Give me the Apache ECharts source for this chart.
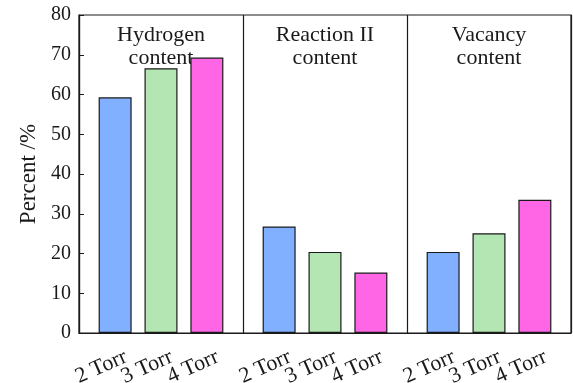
<!DOCTYPE html>
<html>
<head>
<meta charset="utf-8">
<script src="https://cdn.jsdelivr.net/npm/echarts@6/dist/echarts.min.js"></script>
<style>
  html, body { margin: 0; padding: 0; background: #fff; }
  #chart { width: 573px; height: 383px; }
</style>
</head>
<body>
<div id="chart"></div>
<script>
// Group titles (one band per quantity) and the pressure of each bar
const groups = ['Hydrogen\ncontent', 'Reaction II\ncontent', 'Vacancy\ncontent'];
const pressures = ['2 Torr', '3 Torr', '4 Torr'];

// Percent values per pressure, in group order
const torr2 = [59.3, 26.8, 20.4];
const torr3 = [66.6, 20.4, 25.1];
const torr4 = [69.3, 15.2, 33.5];

// Y axis range
const yMin = 0;
const yMax = 80;
const yStep = 10;

const barColors = ['#80b0ff', '#b3e6b3', '#ff66e6'];
const ink = '#1a1a1a';
const font = '"Liberation Serif", "DejaVu Serif", serif';

const chart = echarts.init(document.getElementById('chart'));

const seriesData = [torr2, torr3, torr4];
const series = seriesData.map((vals, i) => ({
  type: 'bar',
  name: pressures[i],
  data: vals,
  xAxisIndex: 0,
  barWidth: 33,
  barGap: '39%',
  itemStyle: { color: barColors[i], borderColor: ink, borderWidth: 1.2 },
  label: {
    show: true,
    position: 'bottom',
    formatter: '{a}',
    rotate: 24,
    align: 'right',
    verticalAlign: 'top',
    distance: 6,
    offset: [3, 9],
    fontFamily: font,
    fontSize: 22,
    color: ink
  },
  emphasis: { disabled: true }
}));

chart.setOption({
  animation: false,
  grid: {
    left: 79, right: 2, top: 15, bottom: 50,
    show: true, borderColor: ink, borderWidth: 1.2, backgroundColor: 'transparent'
  },
  xAxis: [
    {
      type: 'category',
      data: groups,
      axisLine: { show: true, lineStyle: { color: ink, width: 1.2 } },
      axisTick: { show: false },
      axisLabel: { show: false },
      splitLine: { show: true, interval: 0, lineStyle: { color: ink, width: 1.2 } }
    },
    {
      type: 'category',
      position: 'top',
      data: groups,
      axisLine: { show: false },
      axisTick: { show: false },
      splitLine: { show: false },
      axisLabel: {
        inside: true,
        interval: 0,
        margin: 9,
        fontFamily: font,
        fontSize: 22,
        lineHeight: 23,
        color: ink
      }
    }
  ],
  yAxis: {
    type: 'value',
    min: yMin,
    max: yMax,
    interval: yStep,
    axisLine: { show: true, lineStyle: { color: ink, width: 1.2 } },
    axisTick: { show: true, inside: true, length: 5, lineStyle: { color: ink } },
    splitLine: { show: false },
    axisLabel: { fontFamily: font, fontSize: 20, color: ink, margin: 8 },
    name: 'Percent /%',
    nameLocation: 'middle',
    nameGap: 39,
    nameTextStyle: { fontFamily: font, fontSize: 23, color: ink }
  },
  series: series
});
</script>
</body>
</html>
